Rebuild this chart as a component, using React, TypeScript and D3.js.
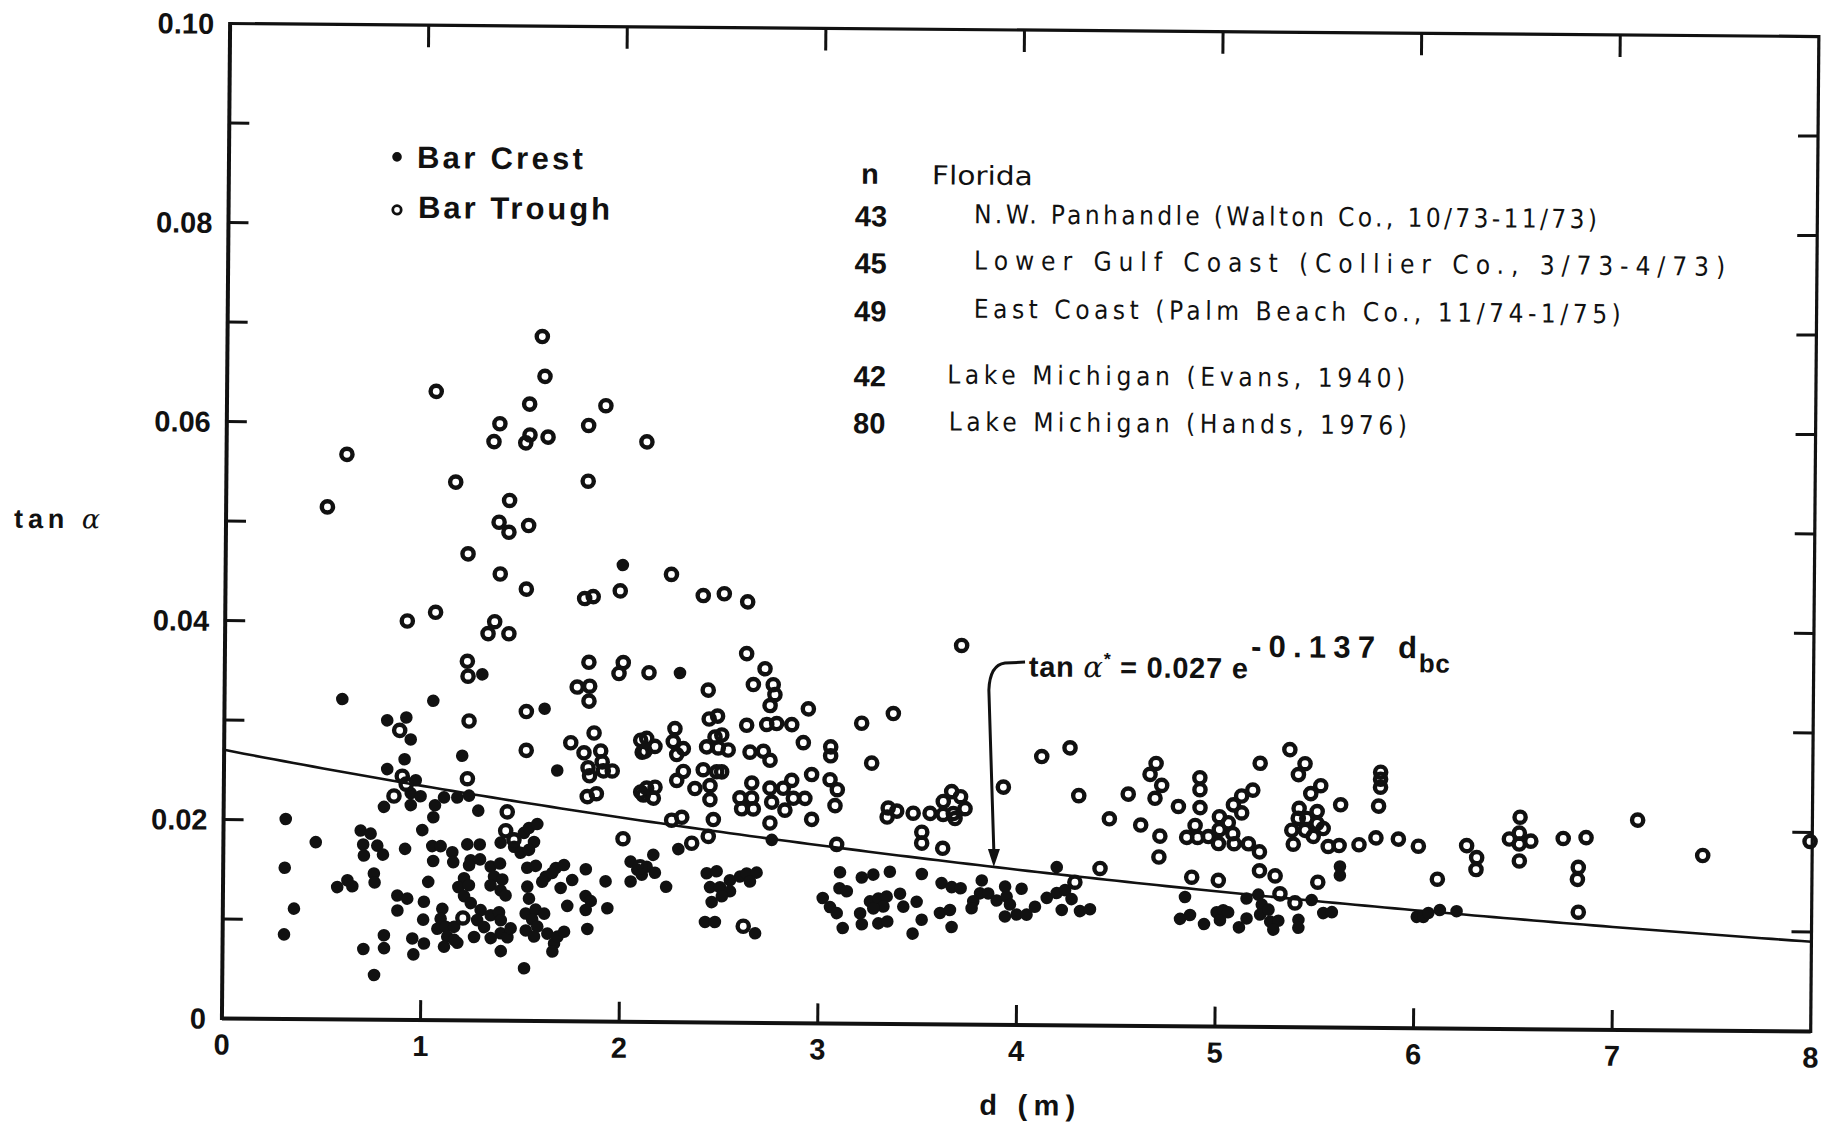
import React from "react";
import * as d3 from "d3";

// Bar trough slopes (open circles): [depth d (m), tan alpha]
const troughPoints: [number, number][] = [
  [1.585,0.0688],[1.600,0.0648],[1.053,0.0632],[1.524,0.0620],[1.908,0.0619],[1.375,0.0600],[1.822,0.0599],
  [1.346,0.0582],[1.527,0.0589],[1.506,0.0581],[1.618,0.0587],[2.116,0.0583],[0.606,0.0568],[1.155,0.0541],
  [1.822,0.0543],[0.510,0.0515],[1.427,0.0523],[1.375,0.0501],[1.425,0.0491],[1.524,0.0498],[1.220,0.0469],
  [1.383,0.0449],[1.515,0.0434],[1.809,0.0425],[1.852,0.0427],[1.988,0.0433],[0.917,0.0401],[1.059,0.0410],
  [1.357,0.0401],[1.324,0.0389],[1.429,0.0389],[1.221,0.0361],[1.833,0.0361],[2.006,0.0361],[1.985,0.0350],
  [1.225,0.0346],
  [2.245,0.0450],[2.406,0.0429],[2.512,0.0431],[2.630,0.0423],[2.627,0.0371],[2.720,0.0356],[2.136,0.0351],
  [3.709,0.0381],
  [0.883,0.0291],[1.232,0.0301],[1.520,0.0311],[1.775,0.0336],[1.838,0.0337],[1.835,0.0322],[1.862,0.0290],
  [1.745,0.0280],[1.812,0.0270],[1.896,0.0272],[1.833,0.0255],[1.904,0.0261],[1.955,0.0252],[1.910,0.0252],
  [1.841,0.0247],[1.876,0.0229],[1.830,0.0226],[2.097,0.0283],[2.105,0.0271],[2.099,0.0231],[1.521,0.0272],
  [1.226,0.0243],[0.898,0.0245],[0.918,0.0237],[0.857,0.0225],[1.428,0.0210],[1.421,0.0191],[1.463,0.0182],
  [1.209,0.0103],[2.099,0.0156],[2.012,0.0184],
  [2.435,0.0334],[2.662,0.0340],[2.762,0.0340],[2.771,0.0330],[2.747,0.0319],[2.940,0.0316],[3.209,0.0302],
  [3.368,0.0312],[2.441,0.0305],[2.483,0.0308],[2.269,0.0295],[2.261,0.0282],[2.312,0.0275],[2.279,0.0269],
  [2.127,0.0285],[2.169,0.0277],[2.119,0.0272],[2.429,0.0277],[2.471,0.0287],[2.505,0.0289],[2.488,0.0276],
  [2.538,0.0274],[2.630,0.0299],[2.731,0.0300],[2.781,0.0301],[2.857,0.0300],[2.916,0.0282],[2.648,0.0272],
  [2.715,0.0273],[2.749,0.0264],[3.054,0.0278],[3.054,0.0269],[3.261,0.0262],[4.117,0.0270],[3.925,0.0239],
  [2.313,0.0252],[2.413,0.0254],[2.481,0.0252],[2.280,0.0243],[2.372,0.0235],[2.448,0.0238],[2.448,0.0224],
  [2.506,0.0252],[2.129,0.0235],[2.171,0.0236],[2.163,0.0225],[2.112,0.0228],[2.658,0.0241],[2.599,0.0226],
  [2.658,0.0226],[2.608,0.0215],[2.667,0.0215],[2.750,0.0236],[2.759,0.0222],[2.817,0.0236],[2.859,0.0244],
  [2.868,0.0226],[2.826,0.0214],[2.926,0.0226],[2.959,0.0250],[3.052,0.0245],[3.089,0.0235],[3.078,0.0219],
  [2.256,0.0203],[2.307,0.0206],[2.466,0.0204],[2.751,0.0201],[2.961,0.0205],[2.358,0.0180],[2.441,0.0187],
  [3.088,0.0180],[3.346,0.0217],[3.389,0.0214],[3.341,0.0208],[3.472,0.0212],[3.557,0.0212],[3.623,0.0211],
  [3.674,0.0212],[3.623,0.0224],[3.665,0.0234],[3.710,0.0229],[3.733,0.0217],[3.683,0.0207],[3.516,0.0193],
  [3.516,0.0182],[3.622,0.0177],[2.621,0.0097],
  [4.259,0.0279],[4.305,0.0231],[4.460,0.0208],[4.554,0.0233],[4.618,0.0202],[4.693,0.0264],[4.663,0.0253],
  [4.722,0.0242],[4.689,0.0229],[4.715,0.0191],[4.711,0.0170],[4.807,0.0221],[4.914,0.0250],[4.915,0.0238],
  [4.916,0.0220],[4.892,0.0202],[4.850,0.0190],[4.905,0.0190],[4.959,0.0191],[5.014,0.0211],[5.014,0.0198],
  [5.010,0.0184],[5.059,0.0205],[5.084,0.0223],[5.125,0.0232],[5.126,0.0215],[5.082,0.0194],[5.089,0.0184],
  [5.161,0.0184],[5.181,0.0238],[5.217,0.0265],[5.217,0.0176],[5.218,0.0157],[5.297,0.0152],[5.322,0.0134],
  [5.398,0.0125],[5.366,0.0279],[5.443,0.0265],[5.410,0.0254],[5.523,0.0243],[5.473,0.0235],[5.415,0.0220],
  [5.411,0.0210],[5.454,0.0210],[5.379,0.0198],[5.446,0.0198],[5.506,0.0217],[5.506,0.0205],[5.537,0.0200],
  [5.487,0.0192],[5.387,0.0184],[5.563,0.0182],[5.618,0.0183],[5.624,0.0224],[5.718,0.0184],[5.803,0.0191],
  [5.824,0.0257],[5.824,0.0250],[5.824,0.0242],[5.815,0.0223],[5.916,0.0190],[6.017,0.0183],[6.260,0.0184],
  [6.311,0.0172],[6.308,0.0160],[6.114,0.0150],[5.512,0.0146],[4.415,0.0158],[4.289,0.0144],[4.877,0.0150],
  [5.011,0.0147],
  [6.528,0.0213],[6.475,0.0191],[6.525,0.0197],[6.525,0.0186],[6.583,0.0189],[6.526,0.0169],[6.746,0.0192],
  [6.861,0.0193],[6.823,0.0163],[6.819,0.0151],[6.825,0.0118],[7.120,0.0211],[7.449,0.0176],[7.989,0.0191],
];

// Bar crest slopes (filled dots): [depth d (m), tan alpha]
const crestPoints: [number, number][] = [
  [2.000,0.0459],[1.297,0.0348],[2.292,0.0351],
  [0.593,0.0322],[1.051,0.0321],[0.820,0.0301],[0.916,0.0304],[0.939,0.0282],[1.612,0.0314],[1.678,0.0252],
  [1.199,0.0266],[1.235,0.0226],[0.909,0.0262],[0.822,0.0252],[0.941,0.0228],[0.966,0.0241],[0.991,0.0225],
  [0.942,0.0216],[0.807,0.0214],[1.064,0.0216],[1.109,0.0224],[1.176,0.0224],[1.056,0.0204],[1.282,0.0211],
  [0.313,0.0201],[0.465,0.0178],[0.310,0.0152],[0.358,0.0111],[0.309,0.0085],[0.691,0.0190],[0.741,0.0187],
  [0.704,0.0176],[0.775,0.0175],[0.804,0.0166],[0.708,0.0165],[1.001,0.0191],[0.915,0.0172],[0.759,0.0147],
  [0.763,0.0138],[0.575,0.0133],[0.626,0.0140],[0.651,0.0134],[1.033,0.0139],[1.052,0.0175],[1.057,0.0160],
  [1.094,0.0175],[1.153,0.0169],[1.158,0.0159],[1.228,0.0177],[1.291,0.0177],[1.246,0.0161],[1.293,0.0162],
  [1.238,0.0156],[1.396,0.0179],[1.464,0.0175],[1.497,0.0169],[1.513,0.0189],[1.538,0.0194],[1.580,0.0198],
  [1.564,0.0180],[1.539,0.0172],[1.531,0.0154],[1.574,0.0156],[1.347,0.0155],[1.394,0.0158],[1.364,0.0145],
  [1.406,0.0142],[1.347,0.0136],[1.398,0.0131],[1.423,0.0126],[1.213,0.0143],[1.185,0.0134],[1.238,0.0136],
  [1.214,0.0125],[1.248,0.0118],[0.878,0.0125],[0.928,0.0122],[0.879,0.0110],[1.012,0.0119],[1.009,0.0101],
  [1.105,0.0112],[1.097,0.0102],[1.081,0.0092],[1.123,0.0094],[1.165,0.0094],[1.131,0.0084],[1.115,0.0074],
  [1.182,0.0078],[1.166,0.0081],[1.298,0.0111],[1.281,0.0101],[1.316,0.0094],[1.349,0.0106],[1.391,0.0109],
  [1.400,0.0101],[1.266,0.0084],[1.350,0.0083],[1.400,0.0088],[1.434,0.0084],[1.450,0.0093],[1.532,0.0135],
  [1.541,0.0123],[1.525,0.0108],[1.575,0.0112],[1.618,0.0108],[1.558,0.0102],[1.584,0.0095],[1.526,0.0091],
  [1.568,0.0085],[1.624,0.0145],[1.675,0.0154],[1.716,0.0157],[1.657,0.0149],[1.607,0.0140],[1.758,0.0142],
  [1.700,0.0134],[1.826,0.0153],[1.926,0.0141],[1.826,0.0126],[1.852,0.0121],[1.827,0.0112],[1.936,0.0114],
  [1.734,0.0116],[1.635,0.0088],[1.669,0.0078],[1.686,0.0085],[1.719,0.0090],[1.661,0.0070],[1.836,0.0093],
  [0.955,0.0082],[1.014,0.0077],[0.961,0.0066],[0.812,0.0085],[0.813,0.0072],[0.709,0.0071],[0.764,0.0045],
  [1.401,0.0070],[1.519,0.0053],[2.051,0.0161],[2.085,0.0153],[2.052,0.0141],
  [2.761,0.0184],[2.291,0.0174],[2.165,0.0168],[2.132,0.0156],[2.174,0.0150],[2.108,0.0148],[2.231,0.0136],
  [2.435,0.0150],[2.485,0.0152],[2.452,0.0136],[2.502,0.0136],[2.552,0.0143],[2.603,0.0147],[2.636,0.0150],
  [2.686,0.0151],[2.553,0.0132],[2.461,0.0121],[2.512,0.0127],[2.653,0.0142],[2.428,0.0101],[2.478,0.0101],
  [2.681,0.0090],[3.106,0.0152],[3.104,0.0136],[3.141,0.0133],[3.020,0.0126],[3.057,0.0117],[3.091,0.0111],
  [3.122,0.0096],[3.216,0.0147],[3.274,0.0150],[3.357,0.0153],[3.258,0.0123],[3.300,0.0126],[3.342,0.0128],
  [3.326,0.0118],[3.275,0.0116],[3.209,0.0111],[3.218,0.0100],[3.301,0.0101],[3.346,0.0103],[3.409,0.0131],
  [3.426,0.0118],[3.518,0.0151],[3.493,0.0123],[3.519,0.0105],[3.474,0.0091],[3.618,0.0142],[3.669,0.0138],
  [3.714,0.0137],[3.611,0.0112],[3.661,0.0115],[3.670,0.0098],[3.820,0.0145],[3.812,0.0132],[3.853,0.0132],
  [3.778,0.0124],[3.770,0.0117],[3.896,0.0125],[3.938,0.0139],[3.946,0.0129],[3.963,0.0121],[3.938,0.0109],
  [3.997,0.0111],[4.047,0.0111],[4.021,0.0137],[4.089,0.0119],[4.148,0.0128],[4.198,0.0133],[4.197,0.0159],
  [5.623,0.0162],[5.623,0.0153],[4.240,0.0136],[4.273,0.0127],[4.224,0.0116],[4.316,0.0115],[4.366,0.0117],
  [4.844,0.0130],[4.820,0.0108],[4.870,0.0112],[4.941,0.0103],[5.004,0.0115],[5.037,0.0117],[5.021,0.0107],
  [5.062,0.0115],[5.117,0.0100],[5.155,0.0109],[5.154,0.0129],[5.213,0.0133],[5.231,0.0123],[5.223,0.0113],
  [5.265,0.0118],[5.274,0.0106],[5.315,0.0107],[5.290,0.0098],[5.416,0.0108],[5.416,0.0100],[5.482,0.0128],
  [5.541,0.0115],[5.584,0.0116],[6.012,0.0112],[6.045,0.0112],[6.070,0.0116],[6.128,0.0119],[6.212,0.0118],
];

const xTicks = [0, 1, 2, 3, 4, 5, 6, 7, 8];
const yTicks = [0, 0.01, 0.02, 0.03, 0.04, 0.05, 0.06, 0.07, 0.08, 0.09, 0.1];
const yLabels = [
  { v: 0, text: "0" },
  { v: 0.02, text: "0.02" },
  { v: 0.04, text: "0.04" },
  { v: 0.06, text: "0.06" },
  { v: 0.08, text: "0.08" },
  { v: 0.1, text: "0.10" },
];

// Site list: sample count, place description
const siteCounts = ["43", "45", "49", "42", "80"];
const siteNames = [
  "N.W. Panhandle (Walton Co., 10/73-11/73)",
  "Lower Gulf Coast (Collier Co., 3/73-4/73)",
  "East Coast (Palm Beach Co., 11/74-1/75)",
  "Lake Michigan (Evans, 1940)",
  "Lake Michigan (Hands, 1976)",
];

// Fitted relation tan α* = 0.027 e^(-0.137 d)
const fitA = 0.027;
const fitB = -0.137;
const fit = (d: number) => fitA * Math.exp(fitB * d);

export default function App() {
  const W = 1838;
  const H = 1124;
  const x = d3.scaleLinear().domain([0, 8]).range([226, 226 + 8 * 198.6]);
  const y = d3.scaleLinear().domain([0, 0.1]).range([1025, 30]);

  const ink = "#111";
  const boldFont = "'Liberation Sans', Arial, Helvetica, sans-serif";
  const letterFont = "'DejaVu Sans Condensed', 'DejaVu Sans', 'Noto Sans', sans-serif";

  const curve = d3
    .line<number>()
    .x((d) => x(d))
    .y((d) => y(fit(d)))(d3.range(0, 8.0001, 0.05));

  // Callout arrow pointing from the equation down onto the fitted curve
  const tipD = 3.88;
  const arrowPath = d3.path();
  arrowPath.moveTo(x(4.029), y(0.03648));
  arrowPath.lineTo(x(3.928), y(0.03637));
  arrowPath.quadraticCurveTo(x(3.852), y(0.03616), x(3.848), y(0.03365));
  arrowPath.lineTo(x(tipD), y(fit(tipD)) - 14);
  const tipX = x(tipD);
  const tipY = y(fit(tipD));

  const x0 = x(0), x1 = x(8), yTop = y(0.1), yBot = y(0);

  const legendRows = [217, 264, 312, 377, 424];
  const nameStarts = [971.5, 972, 972, 946, 948];
  const nameWidths = [623, 751, 647, 458, 458];
  const nameShift = [-3, -3.6, -3.3, -2.3, -2.3];

  return (
    <svg
      width={W}
      height={H}
      style={{ position: "absolute", left: 0, top: 0, background: "#fff" }}
    >
      <rect x={0} y={0} width={W} height={H} fill="#fff" />
      <g transform="rotate(0.47 1018 527)">
        {/* frame */}
        <line x1={x0} y1={yTop - 1.5} x2={x0} y2={yBot + 1.5} stroke={ink} strokeWidth={4} />
        <line x1={x0} y1={yBot} x2={x1} y2={yBot} stroke={ink} strokeWidth={4} />
        <line x1={x0} y1={yTop} x2={x1} y2={yTop} stroke={ink} strokeWidth={3.2} />
        <line x1={x1} y1={yTop - 1.5} x2={x1} y2={yBot + 1.5} stroke={ink} strokeWidth={3.2} />

        {/* y ticks on both sides */}
        {yTicks.slice(1, -1).map((v) => (
          <g key={"yt" + v}>
            <line x1={x0} x2={x0 + 20} y1={y(v)} y2={y(v)} stroke={ink} strokeWidth={3} />
            <line x1={x1 - 20} x2={x1} y1={y(v)} y2={y(v)} stroke={ink} strokeWidth={3} />
          </g>
        ))}
        {/* x ticks top and bottom */}
        {xTicks.slice(1, -1).map((v) => (
          <g key={"xt" + v}>
            <line x1={x(v)} x2={x(v)} y1={yBot} y2={yBot - 20} stroke={ink} strokeWidth={3} />
            <line x1={x(v)} x2={x(v)} y1={yTop} y2={yTop + 22} stroke={ink} strokeWidth={3} />
          </g>
        ))}

        {/* tick labels */}
        {yLabels.map((t) => (
          <text
            key={"yl" + t.v}
            x={210}
            y={y(t.v) + 10.4}
            textAnchor="end"
            fontFamily={boldFont}
            fontWeight="bold"
            fontSize={29}
            fill={ink}
          >
            {t.text}
          </text>
        ))}
        {xTicks.map((v) => (
          <text
            key={"xl" + v}
            x={x(v)}
            y={1061}
            textAnchor="middle"
            fontFamily={boldFont}
            fontWeight="bold"
            fontSize={29}
            fill={ink}
          >
            {v}
          </text>
        ))}

        {/* axis titles */}
        <text
          x={1032}
          y={1115}
          textAnchor="middle"
          fontFamily={boldFont}
          fontWeight="bold"
          fontSize={29}
          fill={ink}
          textLength={96}
          lengthAdjust="spacing"
        >
          d  (m)
        </text>
        <text
          x={14}
          y={536}
          fontFamily={boldFont}
          fontWeight="bold"
          fontSize={27}
          fill={ink}
          textLength={86}
          lengthAdjust="spacing"
        >
          tan{" "}
          <tspan fontFamily="'DejaVu Serif', serif" fontStyle="italic" fontWeight="normal">
            α
          </tspan>
        </text>

        {/* fitted curve */}
        <path d={curve ?? ""} fill="none" stroke={ink} strokeWidth={2.6} />

        {/* data: crests (filled) */}
        {crestPoints.map(([d, t], i) => (
          <circle key={"c" + i} cx={x(d)} cy={y(t)} r={6.3} fill={ink} />
        ))}
        {/* data: troughs (open) */}
        {troughPoints.map(([d, t], i) => (
          <circle
            key={"t" + i}
            cx={x(d)}
            cy={y(t)}
            r={5.6}
            fill="none"
            stroke={ink}
            strokeWidth={4.4}
          />
        ))}

        {/* marker legend */}
        <circle cx={394} cy={162} r={4.8} fill={ink} />
        <text
          x={414}
          y={173}
          fontFamily={boldFont}
          fontWeight="bold"
          fontSize={31}
          fill={ink}
          textLength={166}
          lengthAdjust="spacing"
        >
          Bar Crest
        </text>
        <circle cx={394.4} cy={215} r={4.2} fill="none" stroke={ink} strokeWidth={2.8} />
        <text
          x={415.5}
          y={223}
          fontFamily={boldFont}
          fontWeight="bold"
          fontSize={31}
          fill={ink}
          textLength={192}
          lengthAdjust="spacing"
        >
          Bar Trough
        </text>

        {/* site list */}
        <text x={867} y={185} textAnchor="middle" fontFamily={boldFont} fontWeight="bold" fontSize={29} fill={ink}>
          n
        </text>
        <text
          x={929}
          y={185}
          fontFamily={letterFont}
          fontSize={26}
          fill={ink}
          textLength={101}
          lengthAdjust="spacingAndGlyphs"
        >
          Florida
        </text>
        {siteCounts.map((c, i) => (
          <text
            key={"n" + i}
            x={868.5}
            y={legendRows[i] + 10.5}
            textAnchor="middle"
            fontFamily={boldFont}
            fontWeight="bold"
            fontSize={29}
            fill={ink}
          >
            {c}
          </text>
        ))}
        {siteNames.map((s, i) => (
          <text
            key={"s" + i}
            x={nameStarts[i]}
            y={legendRows[i] + nameShift[i] + 9.5}
            fontFamily={letterFont}
            fontSize={26}
            fill={ink}
            textLength={nameWidths[i]}
            lengthAdjust="spacing"
          >
            {s}
          </text>
        ))}

        {/* equation callout */}
        <path d={arrowPath.toString()} fill="none" stroke={ink} strokeWidth={3} />
        <path
          d={`M${tipX - 6},${tipY - 18} L${tipX + 6},${tipY - 18} L${tipX},${tipY} Z`}
          fill={ink}
        />
        <text
          x={1030}
          y={676.5}
          fontFamily={boldFont}
          fontWeight="bold"
          fontSize={29}
          fill={ink}
          textLength={219}
          lengthAdjust="spacing"
        >
          tan{" "}
          <tspan fontFamily="'DejaVu Serif', serif" fontStyle="italic" fontWeight="normal">
            α
          </tspan>
          <tspan dy={-12} fontSize={18}>*</tspan>
          <tspan dy={12}> = 0.027 e</tspan>
        </text>
        <text
          x={1252}
          y={655}
          fontFamily={boldFont}
          fontWeight="bold"
          fontSize={31}
          fill={ink}
          textLength={166}
          lengthAdjust="spacing"
        >
          -0.137 d
        </text>
        <text
          x={1420}
          y={669}
          fontFamily={boldFont}
          fontWeight="bold"
          fontSize={26}
          fill={ink}
          textLength={31}
          lengthAdjust="spacing"
        >
          bc
        </text>
      </g>
    </svg>
  );
}
